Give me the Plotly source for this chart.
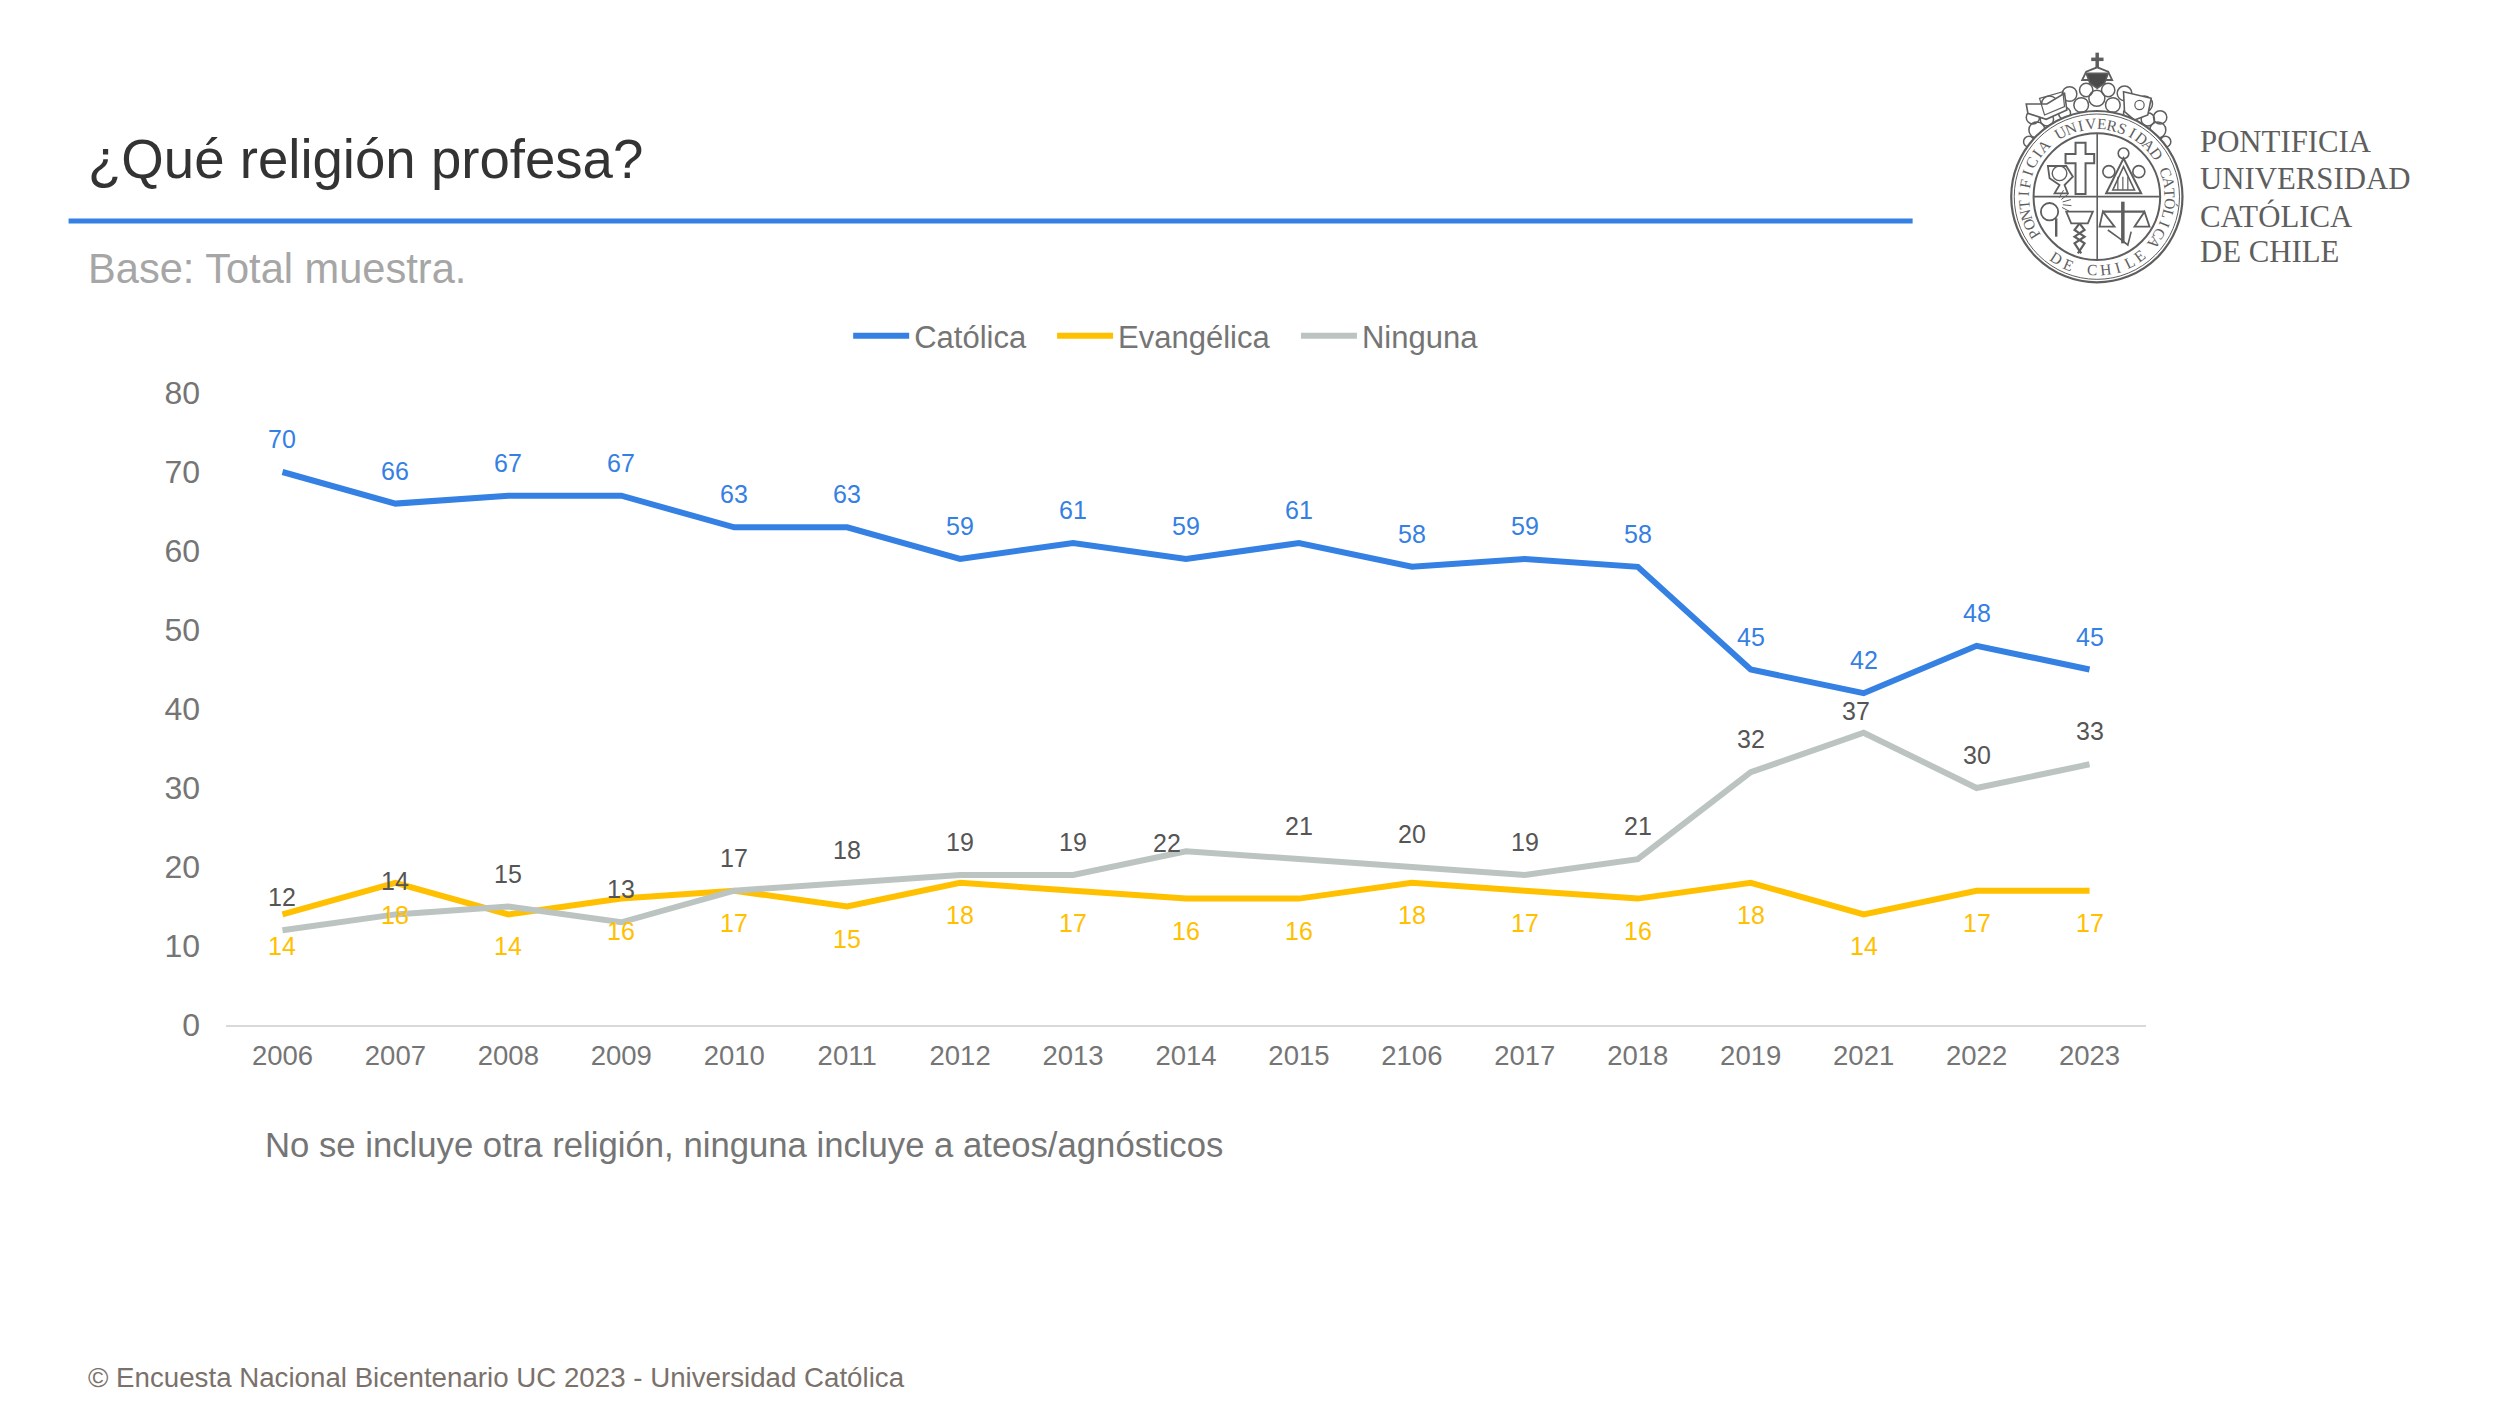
import math
import plotly.graph_objects as go

years = ["2006","2007","2008","2009","2010","2011","2012","2013","2014","2015","2106","2017","2018","2019","2021","2022","2023"]
catolica = [70,66,67,67,63,63,59,61,59,61,58,59,58,45,42,48,45]
evangelica = [14,18,14,16,17,15,18,17,16,16,18,17,16,18,14,17,17]
ninguna = [12,14,15,13,17,18,19,19,22,21,20,19,21,32,37,30,33]
y_ticks = [0,10,20,30,40,50,60,70,80]

BLUE, YEL, GRY = "#3580E3", "#FFC000", "#BCC4C2"
SANS = "Liberation Sans"
SERIF = "Liberation Serif"
PAGE = 8  # the page's own margin round the figure
L, R, T, B = 225.5 - PAGE, 2146.5 - PAGE, 393.0 - PAGE, 1025.0 - PAGE
W, H = 2500 - PAGE, 1407 - PAGE

def px(x): return (x - PAGE - L) / (R - L)
def py(y): return (B - (y - PAGE)) / (B - T)

fig = go.Figure()
series = [("Católica", catolica, BLUE, "legend"), ("Evangélica", evangelica, YEL, "legend2"), ("Ninguna", ninguna, GRY, "legend3")]
for name, vals, col, leg in series:
    fig.add_trace(go.Scatter(x=years, y=vals, name=name, mode="lines", legend=leg,
                             line=dict(color=col, width=6, shape="linear"), hoverinfo="skip"))

ann = []
def txt(x, y, s, size, color, anchor="left", font=SANS, angle=0):
    ann.append(dict(xref="paper", yref="paper", x=px(x), y=py(y), text=s, showarrow=False,
                    xanchor=anchor, yanchor="middle", textangle=angle, borderpad=0, borderwidth=0,
                    font=dict(family=font, size=size, color=color)))

for i, yr in enumerate(years):
    for v, col, ys, xs in [
        (catolica[i], BLUE, 33, 0),
        (evangelica[i], YEL, -32, 0),
        (ninguna[i], "#555555", 8 if yr == "2014" else 22 if yr == "2021" else 33, -19 if yr == "2014" else -8 if yr == "2021" else 0),
    ]:
        ann.append(dict(x=i, y=v, xref="x", yref="y", text=str(v), showarrow=False,
                        yshift=ys, xshift=xs, xanchor="center", yanchor="middle",
                        font=dict(family=SANS, size=25, color=col)))

txt(87, 159, "¿Qué religión profesa?", 54.6, "#333333")
txt(87, 268, "Base: Total muestra.", 41.6, "#A6A6A6")
txt(265, 1145, "No se incluye otra religión, ninguna incluye a ateos/agnósticos", 34.7, "#757575")
txt(87, 1377, "© Encuesta Nacional Bicentenario UC 2023 - Universidad Católica", 27.7, "#7B716B")

shapes = [dict(type="line", xref="paper", yref="paper", x0=px(68), x1=px(1913), y0=py(221), y1=py(221),
               line=dict(color=BLUE, width=5))]

# --- university logo -------------------------------------------------------
LOGO = "#5E5E5E"
def zx(x): return 1950 + x / 3
def zy(y): return 30 + y / 3
def path(pts, close=False, fill=None, width=1.6, color=LOGO):
    d = "M " + " L ".join(f"{px(zx(a)):.5f},{py(zy(b)):.5f}" for a, b in pts) + (" Z" if close else "")
    shapes.append(dict(type="path", xref="paper", yref="paper", path=d,
                       fillcolor=fill or "rgba(0,0,0,0)", line=dict(color=color, width=width)))
def circle(cx, cy, r, width=1.6, fill=None):
    shapes.append(dict(type="circle", xref="paper", yref="paper",
                       x0=px(zx(cx - r)), x1=px(zx(cx + r)), y0=py(zy(cy + r)), y1=py(zy(cy - r)),
                       fillcolor=fill or "rgba(0,0,0,0)", line=dict(color=LOGO, width=width)))

C = (442, 500)
# garland behind the seal
for (gx, gy, gr) in [(238,335,16),(262,300,24),(250,262,20),(292,268,20),(300,222,24),(345,250,18),(360,192,22),
                     (395,225,22),(410,180,20),(442,205,24),(476,180,20),(490,225,22),(525,190,22),(540,250,18),
                     (585,222,24),(595,268,20),(632,262,20),(625,300,24),(648,335,16)]:
    circle(gx, gy, gr, 1.5)
path([(230,222),(292,222),(345,190),(352,240),(290,268),(235,250)], True, fill="white", width=1.6)
path([(270,205),(340,185),(345,230),(285,255)], True, width=1.2)
path([(522,185),(605,205),(595,255),(555,270),(525,245)], True, fill="white", width=1.6)
circle(570, 225, 14, 1.2)
circle(*C, 257, 2.2, fill="white")
circle(*C, 248, 1)
circle(*C, 190, 2)
path([(443, 312), (443, 688)])
path([(253, 500), (631, 500)])
# cross
path([(378,338),(408,338),(408,372),(434,372),(434,400),(408,400),(408,492),(378,492),(378,400),(348,400),(348,372),(378,372)], True, width=2)
# chalice
path([(295,408),(350,408),(370,440),(345,465),(355,490),(315,490),(330,465),(300,445)], True, fill="white", width=1.8)
circle(330, 430, 22, 1.4)
# compass
circle(522, 370, 16, 1.6)
path([(522,385),(470,490),(575,490)], True, width=2)
path([(490,480),(555,480),(522,410)], True)
for xv in (505, 520, 535):
    path([(xv,440),(xv,480)], width=1.2)
circle(478, 425, 18, 1.6)
circle(568, 425, 18, 1.6)
# wheat + sun
circle(300, 545, 26, 1.8)
path([(320,565),(320,620)], width=2.4)
for a in range(-60, 30, 22):
    r = math.radians(a)
    path([(318+22*math.cos(r), 522+22*math.sin(r)), (318+48*math.cos(r), 522+48*math.sin(r))], width=1)
# caduceus
path([(350,545),(430,545),(415,580),(365,580)], True, width=1.8)
path([(390,580),(375,600),(405,620),(375,640),(395,670)], width=2.2)
path([(390,580),(405,600),(375,620),(405,640),(385,670)], width=2.2)
# scales
path([(520,515),(520,640)], width=3.5)
path([(460,545),(585,545)], width=2.2)
path([(460,545),(450,590),(495,590)], True, width=1.8)
path([(585,545),(555,590),(600,590)], True, width=1.8)
path([(475,600),(510,625),(535,645),(545,605)], width=1.6)
# crest
path([(443,68),(443,125)], width=3.5)
path([(425,88),(462,88)], width=3.5)
path([(398,150),(410,125),(443,112),(476,125),(488,150)], True, fill="white", width=1.8)
path([(410,130),(476,130),(465,160),(443,175),(421,160)], True, fill="#4A4A4A")

# ring lettering
ring = "PONTIFICIA UNIVERSIDAD CATÓLICA"
a0, a1 = -121, 129
for i, ch in enumerate(ring):
    if ch == " ":
        continue
    th = a0 + (a1 - a0) * i / (len(ring) - 1)
    r = math.radians(th)
    txt(zx(C[0] + 220 * math.sin(r)), zy(C[1] - 220 * math.cos(r)), ch, 15.5, LOGO, "center", SERIF, th)
bottom = "DE CHILE"
b0, b1 = 33, -36
for i, ch in enumerate(bottom):
    if ch == " ":
        continue
    th = b0 + (b1 - b0) * i / (len(bottom) - 1)
    r = math.radians(th)
    txt(zx(C[0] - 220 * math.sin(r)), zy(C[1] + 220 * math.cos(r)), ch, 15.5, LOGO, "center", SERIF, th)

for i, line in enumerate(["PONTIFICIA", "UNIVERSIDAD", "CATÓLICA", "DE CHILE"]):
    txt(2201, [142, 179, 216, 252][i], line, 30.8, "#5E5E5E", "left", SERIF)

def legend_at(x):
    return dict(orientation="h", x=px(x - 6), y=py(336), xanchor="left", yanchor="middle",
                font=dict(family=SANS, size=31, color="#757575"), itemwidth=56,
                bgcolor="rgba(0,0,0,0)")

fig.update_layout(
    width=W, height=H, autosize=False,
    margin=dict(l=L, r=W - R, t=T, b=H - B, pad=0),
    paper_bgcolor="white", plot_bgcolor="white",
    font=dict(family=SANS, color="#757575"),
    showlegend=True,
    legend=legend_at(854), legend2=legend_at(1058), legend3=legend_at(1302),
    annotations=ann, shapes=shapes,
    xaxis=dict(type="category", categoryorder="array", categoryarray=years, range=[-0.5, 16.5],
               showgrid=False, zeroline=False, showline=True, linecolor="#D9D9D9", linewidth=2,
               ticks="", tickfont=dict(family=SANS, size=27.5, color="#757575"), ticklabelstandoff=5),
    yaxis=dict(range=[0, 80], tickmode="array", tickvals=y_ticks, showgrid=False, zeroline=False,
               showline=False, ticks="", tickfont=dict(family=SANS, size=32, color="#757575"),
               ticklabelstandoff=25),
)
fig.write_html("out.html")
